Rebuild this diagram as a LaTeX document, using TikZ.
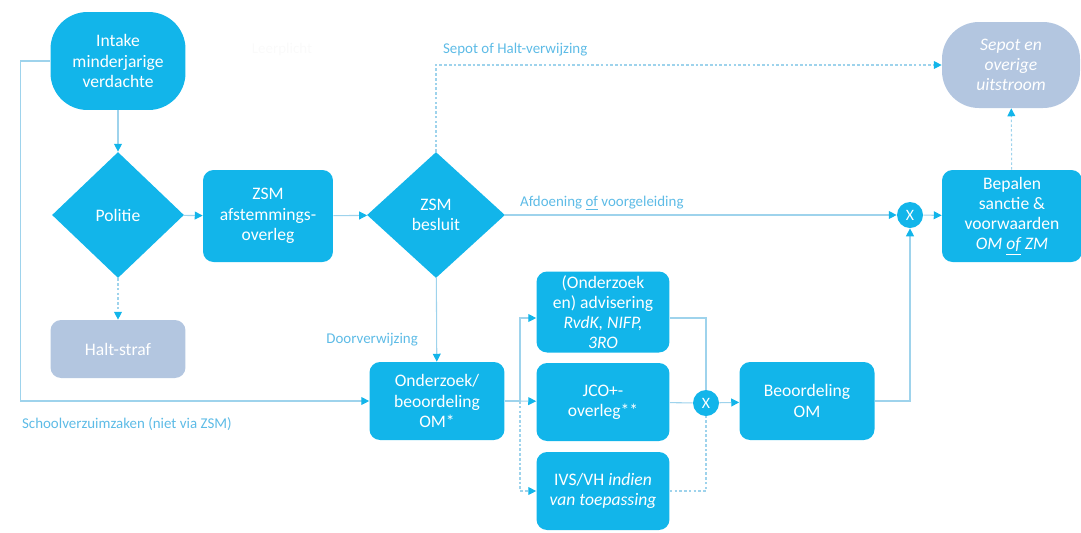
\documentclass[tikz,border=0pt]{standalone}
\usepackage{fontspec}
\setmainfont{Carlito}
\usepackage{xcolor}
\usetikzlibrary{shapes.geometric,arrows.meta,positioning}

\definecolor{zsmblue}{HTML}{12B5EA}
\definecolor{greyblue}{HTML}{B3C6E0}
\definecolor{linkblue}{HTML}{9ED3EC}
\definecolor{lbltext}{HTML}{5DBBE6}

\begin{document}
\begin{tikzpicture}[x=0.02cm, y=-0.02cm,
    box/.style={rectangle, rounded corners=6pt, fill=zsmblue, text=white, align=center,
        minimum width=2.7cm, minimum height=1.56cm, inner sep=1pt, font=\fontsize{10}{11.5}\selectfont},
    greybox/.style={box, fill=greyblue},
    ends/.style={box, rounded corners=21pt},
    choice/.style={diamond, fill=zsmblue, text=white, align=center, inner sep=0pt,
        minimum width=2.64cm, minimum height=2.52cm, font=\fontsize{10}{11.5}\selectfont},
    gate/.style={circle, fill=zsmblue, text=white, minimum size=0.52cm, inner sep=0pt, font=\fontsize{9}{10}\selectfont},
    lbl/.style={text=lbltext, inner sep=1pt, font=\fontsize{8.5}{10}\selectfont},
    link/.style={draw=linkblue, line width=0.6pt},
    arrow/.style={link, -{Triangle[length=4.5pt, width=4.5pt, color=zsmblue, fill=zsmblue]}},
    dots/.style={dash pattern=on 1.5pt off 1.2pt}
]
    \useasboundingbox (0,0) rectangle (1081,532);

    % top row
    \node[ends, minimum height=1.96cm] (intake) at (118,61) {Intake\\minderjarige\\verdachte};
    \node[choice] (politie) at (118,215) {Politie};
    \node[box, minimum width=2.6cm, minimum height=1.84cm] (afstem) at (268,216) {ZSM\\afstemmings-\\overleg};
    \node[choice, minimum width=2.76cm] (besluit) at (436,215) {ZSM\\besluit};
    \node[greybox, minimum height=1.16cm] (halt) at (118,349) {Halt-straf};
    \node[ends, fill=greyblue, minimum width=2.76cm, minimum height=1.72cm, font=\fontsize{10}{11.5}\selectfont\itshape] (sepot) at (1011,65) {Sepot en\\overige\\uitstroom};
    \node[gate] (x1) at (910,215) {X};
    \node[box, minimum width=2.8cm, minimum height=1.84cm] (sanctie) at (1012,216) {Bepalen\\sanctie \&\\voorwaarden\\\textit{OM \underline{of} ZM}};

    % bottom part
    \node[box] (onderzoek) at (437,401) {Onderzoek/\\beoordeling\\OM*};
    \node[box, minimum width=2.66cm, minimum height=1.62cm] (advies) at (603,312) {(Onderzoek\\en) advisering\\\textit{RvdK, NIFP,}\\\textit{3RO}};
    \node[box, minimum width=2.66cm] (jco) at (603,402) {JCO+-\\overleg**};
    \node[box, minimum width=2.66cm] (ivs) at (603,491) {IVS/VH \textit{indien}\\\textit{van toepassing}};
    \node[gate] (x2) at (706,403) {X};
    \node[box] (beoordeling) at (807,401) {Beoordeling\\OM};
    \coordinate (split) at (520,401);

    % labels
    \node[lbl, text=black!2] (leerplicht) at (282,50) {Leerplicht};
    \node[lbl, anchor=west] (lblsepot) at (441,50) {Sepot of Halt-verwijzing};
    \node[lbl, anchor=west] (lblafdoen) at (518,203) {Afdoening \underline{of} voorgeleiding};
    \node[lbl, anchor=east] (lbldoor) at (420,340) {Doorverwijzing};
    \node[lbl, anchor=west] (lblschool) at (20,424) {Schoolverzuimzaken (niet via ZSM)};

    % connectors
    \draw[arrow] (intake) -- (politie);
    \draw[arrow] (intake.west) -- ++(-30,0) |- (onderzoek.west);
    \draw[arrow] (politie) -- (afstem);
    \draw[arrow, dots] (politie) -- (halt);
    \draw[arrow] (afstem) -- (besluit);
    \draw[arrow, dots] (besluit.north) |- (sepot.west);
    \draw[arrow] (besluit) -- (x1);
    \draw[arrow] (besluit) -- (onderzoek);
    \draw[arrow] (x1) -- (sanctie);
    \draw[arrow, dots] (sanctie) -- (sepot);

    \draw[link] (onderzoek) -- (split);
    \draw[arrow] (split) |- ([yshift=-0.12cm]advies.west);
    \draw[arrow] (split) -- (jco);
    \draw[arrow, dots] (split) |- (ivs.west);
    \draw[link] ([yshift=-0.12cm]advies.east) -| (x2);
    \draw[link] (jco) -- (x2);
    \draw[link, dots] (ivs.east) -| (x2);
    \draw[arrow] (x2) -- (beoordeling);
    \draw[arrow] (beoordeling.east) -| (x1);
\end{tikzpicture}
\end{document}
